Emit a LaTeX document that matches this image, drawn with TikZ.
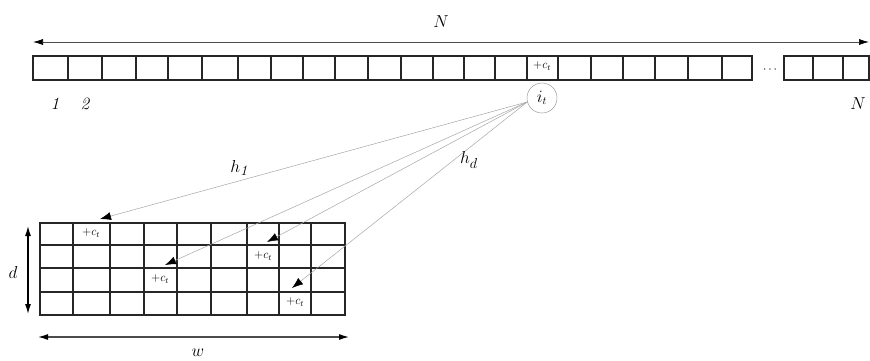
\documentclass[tikz,border=0pt]{standalone}
\usetikzlibrary{arrows.meta}
\begin{document}
\begin{tikzpicture}[x=1pt,y=-1pt,
  cellline/.style={line width=1.6pt,black!85},
  lbl/.style={font=\fontsize{19}{19}\selectfont,inner sep=0pt},
  small/.style={font=\fontsize{12}{12}\selectfont,inner sep=0pt},
  hashline/.style={draw=black!35,line width=0.5pt,-{Latex[black,length=11pt,width=8pt]}},
  dimarrow/.style={line width=0.7pt,black!70,{Latex[black,length=10pt,width=6pt]}-{Latex[black,length=10pt,width=6pt]}}]
\useasboundingbox (0,0) rectangle (870,360);
% top array, first segment
\foreach \xa/\xb in {33/68,68/102,102/136,136/168,168/202,202/238,238/271,271/303,303/335,335/368,368/401,401/433,433/464,464/495,495/527,527/558,558/591,591/623,623/655,655/688,688/722,722/752}
  \draw[cellline] (\xa,56) rectangle (\xb,80);
% second segment
\foreach \xa/\xb in {784/813,813/843,843/869}
  \draw[cellline] (\xa,56) rectangle (\xb,80);
\node[small] (dots) at (770,70) {$\cdots$};
\node[small] (topc) at (542,66) {$+c_t$};
% N arrow
\coordinate (nl) at (33,42);
\coordinate (nr) at (869,42);
\draw[dimarrow] (nl) -- (nr);
\node[lbl] (Ntop) at (441,22) {$N$};
\node[lbl] (one) at (56,104) {$\mathit{1}$};
\node[lbl] (two) at (86,104) {$\mathit{2}$};
\node[lbl] (Nr) at (858,104) {$N$};
% i_t circle
\node[circle,draw=black!40,line width=0.5pt,minimum size=30pt,inner sep=0pt,font=\fontsize{16}{16}\selectfont] (it) at (542,98) {$i_t$};
% grid
\foreach \xa/\xb in {40/73,73/110,110/144,144/177,177/211,211/247,247/279,279/311,311/345}
  \foreach \ya/\yb in {223/245,245/268,268/292,292/315}
    \draw[cellline] (\xa,\ya) rectangle (\xb,\yb);
\node[small] (c1) at (91,233) {$+c_t$};
\node[small] (c2) at (263,256) {$+c_t$};
\node[small] (c3) at (160,279) {$+c_t$};
\node[small] (c4) at (295,302) {$+c_t$};
% hash lines
\coordinate (a1) at (100,219);
\coordinate (a2) at (267,242);
\coordinate (a3) at (165,265);
\coordinate (a4) at (292,288);
\draw[hashline] (it.195) -- (a1);
\draw[hashline] (it.195) -- (a2);
\draw[hashline] (it.195) -- (a3);
\draw[hashline] (it.195) -- (a4);
\node[lbl] (h1) at (240,168) {$h_{\mathit{1}}$};
\node[lbl] (hd) at (469,160) {$h_d$};
% d and w
\coordinate (dt) at (28,226);
\coordinate (db) at (28,314);
\draw[dimarrow,line width=1.2pt,black] (dt) -- (db);
\node[lbl] (d) at (13,272) {$d$};
\coordinate (wl) at (38,337);
\coordinate (wr) at (349,337);
\draw[dimarrow,line width=1.2pt] (wl) -- (wr);
\node[lbl] (w) at (198,353) {$w$};
\end{tikzpicture}
\end{document}
